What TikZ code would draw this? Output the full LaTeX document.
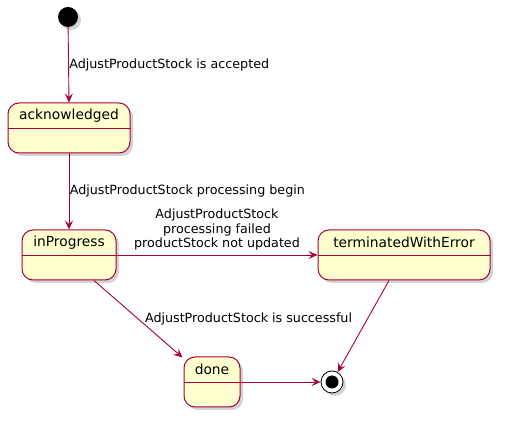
\documentclass[tikz,border=0pt]{standalone}
\usepackage{fontspec}
\setmainfont{DejaVu Sans}
\usetikzlibrary{arrows.meta,shadows,calc}
\definecolor{umlred}{HTML}{A80036}
\definecolor{umlfill}{HTML}{FEFECE}
\tikzset{
  x=1pt,y=1pt,
  sh/.style={drop shadow={opacity=0.35,shadow xshift=3pt,shadow yshift=-3pt}},
  statebox/.style={draw=umlred,fill=umlfill,line width=1pt,rounded corners=11pt,minimum height=50pt,inner sep=0pt,sh},
  statetext/.style={font=\fontsize{13.8}{16}\selectfont,inner sep=0pt},
  divider/.style={draw=umlred,line width=1pt},
  edge/.style={draw=umlred,line width=0.9pt,-{Stealth[length=9pt,width=8pt,inset=3.5pt]}},
  lbl/.style={font=\fontsize{12.7}{14.5}\selectfont,text=black},
}
\begin{document}
\begin{tikzpicture}
\useasboundingbox (0,0) rectangle (508,425);
% start
\node[circle,fill=black,minimum size=20pt,inner sep=0pt,sh] (start) at (68,408) {};
% states
\node[statebox,minimum width=122pt] (ack) at (69,297) {};
\node[statetext] (ackt) at ($(ack.north)+(0,-13)$) {acknowledged};
\draw[divider] ($(ack.north west)+(0,-26)$) coordinate (ackdl) -- ($(ack.north east)+(0,-26)$) coordinate (ackdr);

\node[statebox,minimum width=94pt] (inp) at (69,170) {};
\node[statetext] (inpt) at ($(inp.north)+(0,-13)$) {inProgress};
\draw[divider] ($(inp.north west)+(0,-26)$) coordinate (inpdl) -- ($(inp.north east)+(0,-26)$) coordinate (inpdr);

\node[statebox,minimum width=172pt] (term) at (404,170) {};
\node[statetext] (termt) at ($(term.north)+(0,-13)$) {terminatedWithError};
\draw[divider] ($(term.north west)+(0,-26)$) coordinate (termdl) -- ($(term.north east)+(0,-26)$) coordinate (termdr);

\node[statebox,minimum width=56pt] (done) at (212,43) {};
\node[statetext] (donet) at ($(done.north)+(0,-13)$) {done};
\draw[divider] ($(done.north west)+(0,-26)$) coordinate (donedl) -- ($(done.north east)+(0,-26)$) coordinate (donedr);

% end
\node[circle,draw=black,fill=white,line width=0.8pt,minimum size=22pt,inner sep=0pt,sh] (end) at (332,43) {};
\node[circle,fill=black,minimum size=13pt,inner sep=0pt] (endin) at (end) {};

% edges
\draw[edge] (start) -- node[lbl,midway,right,xshift=-3pt] {AdjustProductStock is accepted} (ack.north);
\draw[edge] (ack.south) -- node[lbl,midway,right,xshift=-3pt] {AdjustProductStock processing begin} (inp.north);
\draw[edge] (inp.east) -- node[lbl,midway,above,align=center,yshift=1pt] {AdjustProductStock\\processing failed\\productStock not updated} (term.west);
\draw[edge] ($(inp.south)+(25,0)$) -- node[lbl,midway,right,xshift=3pt] {AdjustProductStock is successful} ($(done.north west)+(-1,-1)$);
\draw[edge] ($(term.south)+(-15,0)$) -- (end);
\draw[edge] (done.east) -- (end);
\end{tikzpicture}
\end{document}
